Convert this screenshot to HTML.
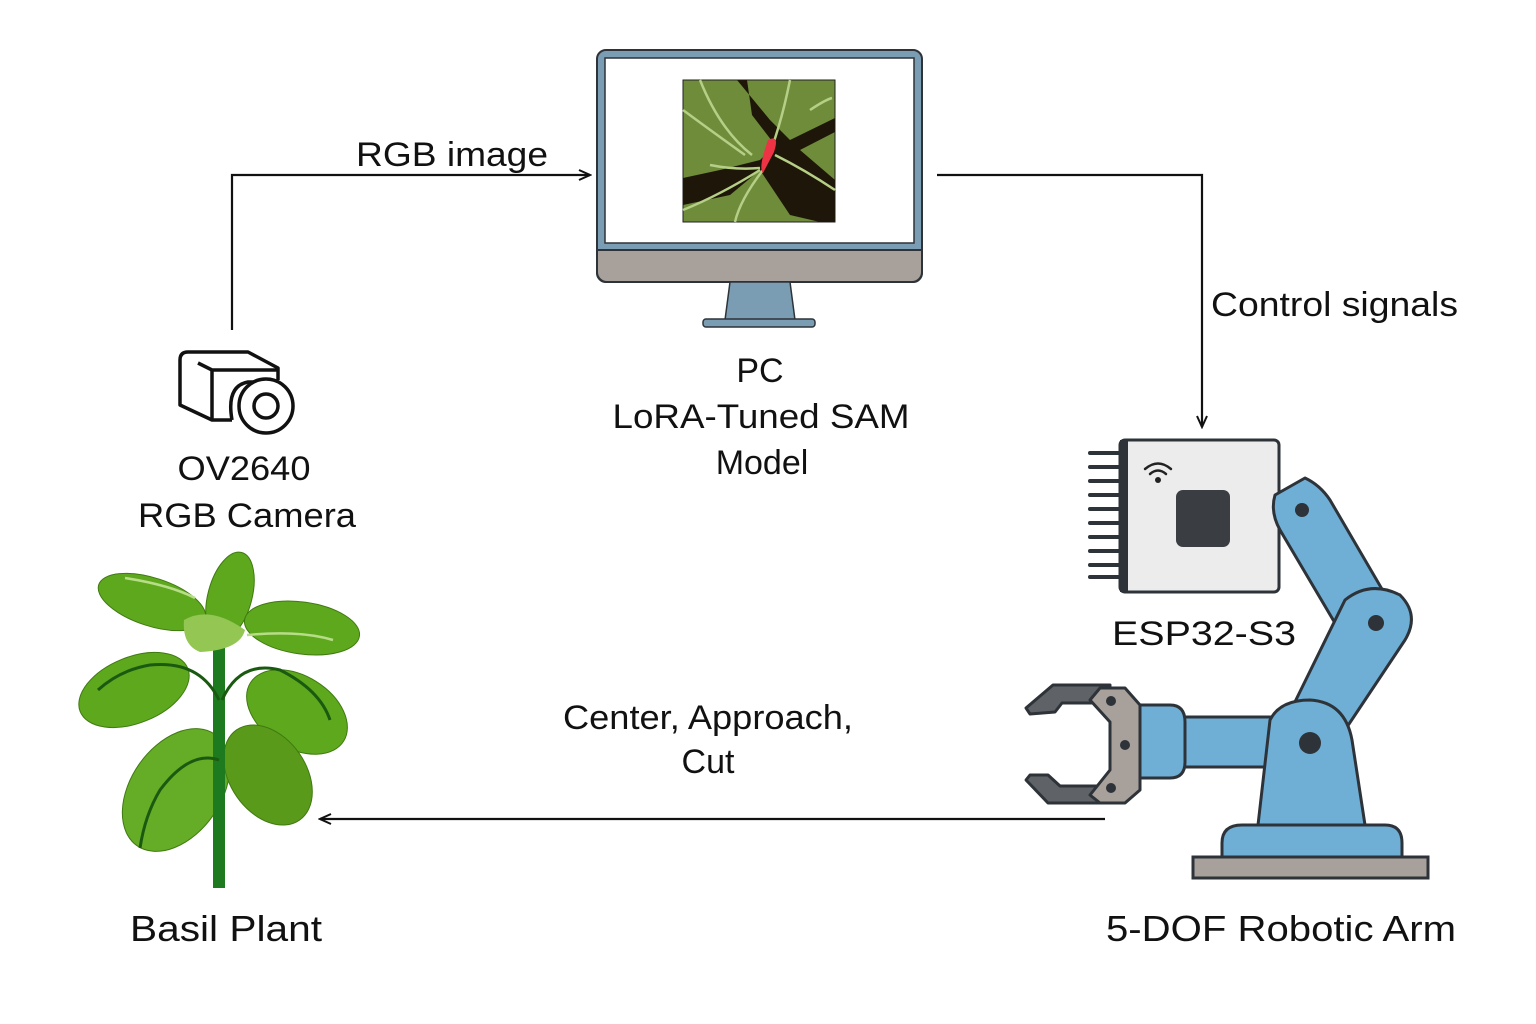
<!DOCTYPE html>
<html><head><meta charset="utf-8"><style>
html,body{margin:0;padding:0;background:#fff;}
svg{display:block;}
text{font-family:"Liberation Sans",sans-serif;fill:#111;}
</style></head><body>
<svg width="1536" height="1024" viewBox="0 0 1536 1024" xmlns="http://www.w3.org/2000/svg">
<defs>
<marker id="ah" markerWidth="14" markerHeight="12" refX="12" refY="6" orient="auto" markerUnits="userSpaceOnUse">
<path d="M1,1 L12,6 L1,11" fill="none" stroke="#111" stroke-width="2"/>
</marker>
</defs>
<rect width="1536" height="1024" fill="#fff"/>

<!-- connectors -->
<polyline points="232,330 232,175 590,175" fill="none" stroke="#111" stroke-width="2.2" marker-end="url(#ah)"/>
<polyline points="937,175 1202,175 1202,427" fill="none" stroke="#111" stroke-width="2.2" marker-end="url(#ah)"/>
<line x1="1105" y1="819" x2="320" y2="819" stroke="#111" stroke-width="2.2" marker-end="url(#ah)"/>

<!-- monitor -->
<rect x="597" y="50" width="325" height="232" rx="9" fill="#7a9db3" stroke="#2d3338" stroke-width="2"/>
<path d="M597,250 H922 V272 a10,10 0 0 1 -10,10 H607 a10,10 0 0 1 -10,-10 Z" fill="#a8a09b" stroke="#2d3338" stroke-width="2"/>
<rect x="605" y="58" width="309" height="185" fill="#fff" stroke="#2d3338" stroke-width="1.5"/>
<polygon points="730,282 790,282 795,320 725,320" fill="#7a9db3" stroke="#2d3338" stroke-width="1.5"/>
<rect x="703" y="319" width="112" height="8" rx="3" fill="#7a9db3" stroke="#2d3338" stroke-width="1.5"/>
<!-- screen image -->
<rect x="683" y="80" width="152" height="142" fill="#6e8c3a" stroke="#222" stroke-width="1"/>
<g fill="#1e1608">
<polygon points="737,80 747,80 752,115 775,145 760,160 720,170 683,178 683,205 730,195 760,170 790,215 820,222 835,222 835,180 800,150 835,132 835,118 790,140 770,120"/>
</g>
<g fill="none" stroke="#b6cf86" stroke-width="2.5">
<path d="M683,110 Q710,130 745,155"/><path d="M700,80 Q720,130 752,155"/><path d="M790,80 Q780,130 765,165"/>
<path d="M763,170 Q740,200 735,222"/><path d="M683,210 Q720,195 760,170"/><path d="M775,155 Q805,170 835,190"/>
<path d="M810,110 Q825,100 832,98"/><path d="M710,165 Q735,170 760,168"/>
</g>
<path d="M768,140 Q780,134 774,152 L763,173 Q758,168 768,140 Z" fill="#ee3344"/>

<!-- camera icon -->
<g fill="none" stroke="#111" stroke-width="3.5" stroke-linejoin="round">
<path d="M180,360 Q180,352 188,352 H248 L278,368 V380"/>
<path d="M180,360 V405 L212,420 H232"/>
<path d="M198,363 L212,370 H278"/>
<line x1="212" y1="370" x2="212" y2="420"/>
<path d="M232,420 Q226,386 248,382 H268"/>
<circle cx="266" cy="406" r="27" fill="#fff"/>
<circle cx="266" cy="406" r="12"/>
</g>

<!-- plant -->
<g stroke="#3f7a10" stroke-width="1">
<ellipse cx="152" cy="602" rx="56" ry="24" transform="rotate(18 152 602)" fill="#5ea81e"/>
<ellipse cx="230" cy="596" rx="22" ry="45" transform="rotate(15 230 596)" fill="#5ea81e"/>
<ellipse cx="302" cy="628" rx="58" ry="26" transform="rotate(8 302 628)" fill="#5ea81e"/>
<ellipse cx="134" cy="690" rx="58" ry="33" transform="rotate(-22 134 690)" fill="#5ea81e"/>
<ellipse cx="297" cy="712" rx="55" ry="36" transform="rotate(32 297 712)" fill="#5ea81e"/>
<ellipse cx="176" cy="790" rx="45" ry="68" transform="rotate(35 176 790)" fill="#65ad26"/>
<ellipse cx="268" cy="775" rx="38" ry="55" transform="rotate(-35 268 775)" fill="#5a9a1a"/>
</g>
<rect x="213" y="640" width="12" height="248" fill="#1e7a1e"/>
<path d="M184,620 Q210,605 245,630 Q240,650 200,652 Q182,645 184,620 Z" fill="#93c653"/>
<g fill="none" stroke="#1a5a10" stroke-width="3">
<path d="M219,700 Q200,660 150,665 Q120,670 98,690"/>
<path d="M222,700 Q240,660 280,670 Q320,690 330,720"/>
<path d="M219,760 Q190,750 160,790 Q145,815 140,848"/>
</g>
<g fill="none" stroke="#b8dd88" stroke-width="2.5">
<path d="M125,578 Q170,585 195,598"/><path d="M247,635 Q300,630 333,640"/>
</g>

<!-- ESP board -->
<g stroke="#2d3338" stroke-width="4" stroke-linecap="round">
<line x1="1090" y1="453" x2="1120" y2="453"/><line x1="1090" y1="467" x2="1120" y2="467"/>
<line x1="1090" y1="481" x2="1120" y2="481"/><line x1="1090" y1="495" x2="1120" y2="495"/>
<line x1="1090" y1="509" x2="1120" y2="509"/><line x1="1090" y1="523" x2="1120" y2="523"/>
<line x1="1090" y1="537" x2="1120" y2="537"/><line x1="1090" y1="551" x2="1120" y2="551"/>
<line x1="1090" y1="565" x2="1120" y2="565"/><line x1="1090" y1="577" x2="1120" y2="577"/>
</g>
<rect x="1120" y="440" width="159" height="152" rx="5" fill="#ececec" stroke="#2d3338" stroke-width="3"/>
<rect x="1120" y="440" width="8" height="152" fill="#2d3338"/>
<rect x="1176" y="490" width="54" height="57" rx="7" fill="#3a3d42"/>
<g fill="none" stroke="#222" stroke-width="2.5" stroke-linecap="round">
<path d="M1145,469 Q1158,458 1171,469"/><path d="M1150,474 Q1158,467 1166,474"/>
</g>
<circle cx="1158" cy="480" r="3" fill="#222"/>

<!-- robot arm -->
<g stroke="#2d3338" stroke-width="3" stroke-linejoin="round" fill="#6fafd6">
<rect x="1180" y="717" width="105" height="50" fill="#6fafd6"/>
<path d="M1275,495 L1305,478 Q1320,485 1330,500 L1400,620 L1345,640 L1280,530 Q1270,512 1275,495 Z"/>
<path d="M1345,600 Q1370,580 1400,595 Q1420,615 1405,640 L1345,730 L1290,712 Z"/>
<path d="M1222,860 V843 Q1222,825 1242,825 H1385 Q1402,825 1402,843 V860 Z"/>
<path d="M1258,825 L1270,720 Q1280,700 1310,700 Q1345,702 1352,740 L1365,825 Z"/>
<path d="M1140,705 H1170 Q1185,705 1185,722 V762 Q1185,778 1170,778 H1140 Z"/>
</g>
<rect x="1193" y="857" width="235" height="21" fill="#a8a09b" stroke="#2d3338" stroke-width="3"/>
<circle cx="1302" cy="510" r="7" fill="#2d3338"/>
<circle cx="1376" cy="623" r="8" fill="#2d3338"/>
<circle cx="1310" cy="743" r="11" fill="#2d3338"/>
<!-- gripper -->
<g stroke="#2d3338" stroke-width="3" stroke-linejoin="round">
<polygon points="1053,685 1110,685 1110,703 1062,703 1055,712 1030,714 1026,708" fill="#5f6368"/>
<polygon points="1030,775 1048,775 1060,786 1110,786 1110,803 1048,803 1026,780" fill="#5f6368"/>
<polygon points="1100,688 1125,688 1140,705 1140,790 1125,803 1100,803 1090,795 1110,770 1110,722 1090,700" fill="#a8a09b"/>
</g>
<circle cx="1111" cy="701" r="5" fill="#2d3338"/>
<circle cx="1125" cy="745" r="5" fill="#2d3338"/>
<circle cx="1111" cy="788" r="5" fill="#2d3338"/>

<!-- labels -->
<g lengthAdjust="spacingAndGlyphs">
<text x="356" y="166" font-size="34" textLength="192" lengthAdjust="spacingAndGlyphs">RGB image</text>
<text x="1211" y="316" font-size="34" textLength="247" lengthAdjust="spacingAndGlyphs">Control signals</text>
<text x="760" y="382" font-size="34" text-anchor="middle">PC</text>
<text x="761" y="428" font-size="34" text-anchor="middle" textLength="297" lengthAdjust="spacingAndGlyphs">LoRA-Tuned SAM</text>
<text x="762" y="474" font-size="34" text-anchor="middle">Model</text>
<text x="244" y="480" font-size="34" text-anchor="middle" textLength="133" lengthAdjust="spacingAndGlyphs">OV2640</text>
<text x="247" y="527" font-size="34" text-anchor="middle" textLength="218" lengthAdjust="spacingAndGlyphs">RGB Camera</text>
<text x="1204" y="645" font-size="34" text-anchor="middle" textLength="184" lengthAdjust="spacingAndGlyphs">ESP32-S3</text>
<text x="708" y="729" font-size="34" text-anchor="middle" textLength="290" lengthAdjust="spacingAndGlyphs">Center, Approach,</text>
<text x="708" y="773" font-size="34" text-anchor="middle">Cut</text>
<text x="226" y="941" font-size="36" text-anchor="middle" textLength="192" lengthAdjust="spacingAndGlyphs">Basil Plant</text>
<text x="1281" y="941" font-size="36" text-anchor="middle" textLength="350" lengthAdjust="spacingAndGlyphs">5-DOF Robotic Arm</text>
</g>
</svg>
</body></html>
